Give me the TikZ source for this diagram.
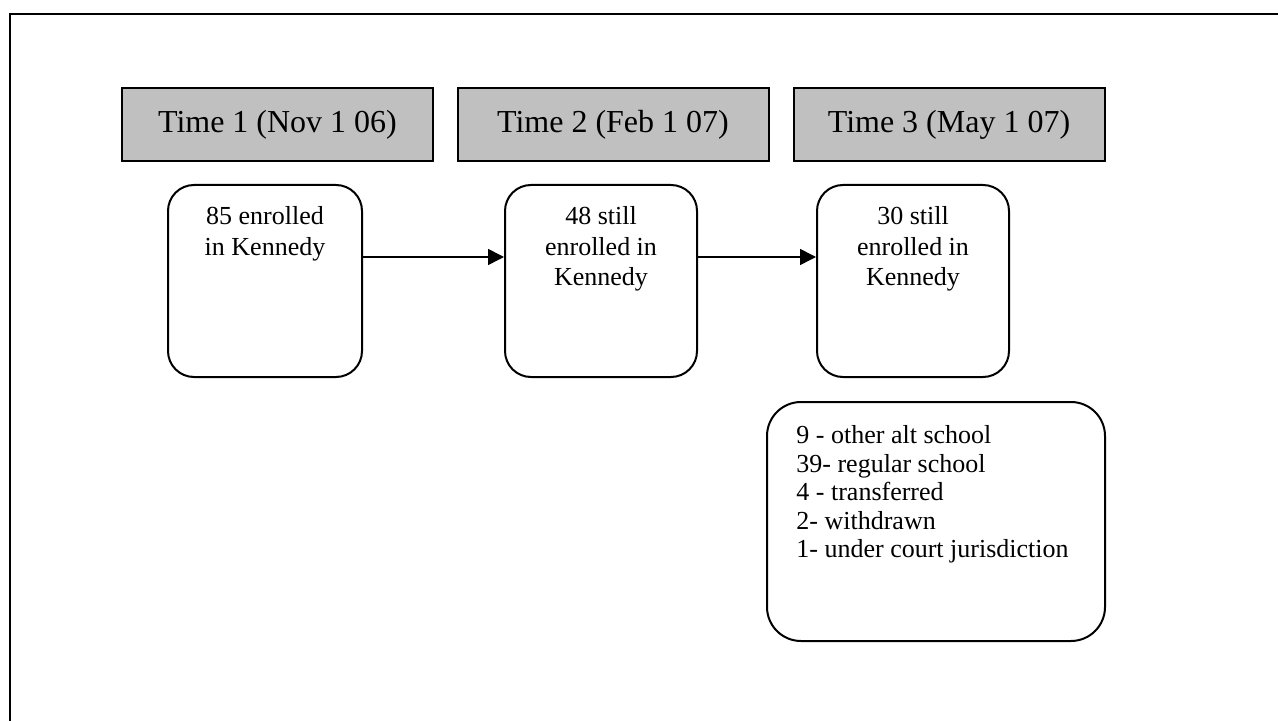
\documentclass[tikz,border=0pt]{standalone}
\usepackage{fontspec}
\setmainfont{Liberation Serif}
\usetikzlibrary{arrows.meta,positioning}
\definecolor{headgray}{RGB}{192,192,192}

\begin{document}
\begin{tikzpicture}[x=.5pt,y=-.5pt]%
                    \useasboundingbox (0,0) rectangle (1278,721); %%
                    \draw[line width=1.3pt] (1278,14) -- (10,14) -- (10,721); %%
                    \begin{scope}
                        \tikzstyle{every node}=[draw,line width=1pt,fill=headgray,minimum width=155.5pt,minimum height=36.5pt,inner sep=0pt,text height=12pt,text depth=3.5pt,font=\fontsize{16}{19}\selectfont];%%
                        \node (t1) at (277.5,124.5) {Time 1 (Nov 1 06)}; %%
                        \node (t2) at (613,124.5) {Time 2 (Feb 1 07)}; %%
                        \node (t3) at (949,124.5) {Time 3 (May 1 07)}; %%
                    \end{scope}
                    \begin{scope}
                        \tikzstyle{every node}=[draw,line width=1pt,rounded corners=13pt,minimum width=96pt,minimum height=96pt,inner sep=0pt];%%
                        \node (e1) at (265,281) [minimum width=97pt] {}; %%
                        \node (e2) at (601,281) {}; %%
                        \node (e3) at (913,281) {}; %%
                        \node (out) at (936,521.5) [minimum width=169pt,minimum height=119.5pt,rounded corners=17pt] {}; %%
                    \end{scope}
                    \begin{scope}
                        \tikzstyle{every node}=[inner sep=0pt,align=center,anchor=north,font=\fontsize{13}{15.3}\selectfont];%%
                        \node (e1txt) [below=11pt of e1.north] {85 enrolled\\in Kennedy}; %%
                        \node (e2txt) [below=11pt of e2.north] {48 still\\enrolled in\\Kennedy}; %%
                        \node (e3txt) [below=11pt of e3.north] {30 still\\enrolled in\\Kennedy}; %%
                        \node (outtxt) [align=left,anchor=north west,font=\fontsize{13}{14.3}\selectfont] at ([xshift=15pt,yshift=-12pt]out.north west) {9 - other alt school\\39- regular school\\4 - transferred\\2- withdrawn\\1- under court jurisdiction}; %%
                    \end{scope}
                        \draw[line width=.75pt,-{Triangle[length=8pt,width=8pt]}] ([yshift=12pt]e1.east) -- ([yshift=12pt]e2.west); %%
                        \draw[line width=.75pt,-{Triangle[length=8pt,width=8pt]}] ([yshift=12pt]e2.east) -- ([yshift=12pt]e3.west); %%
                    \end{tikzpicture}
\end{document}
